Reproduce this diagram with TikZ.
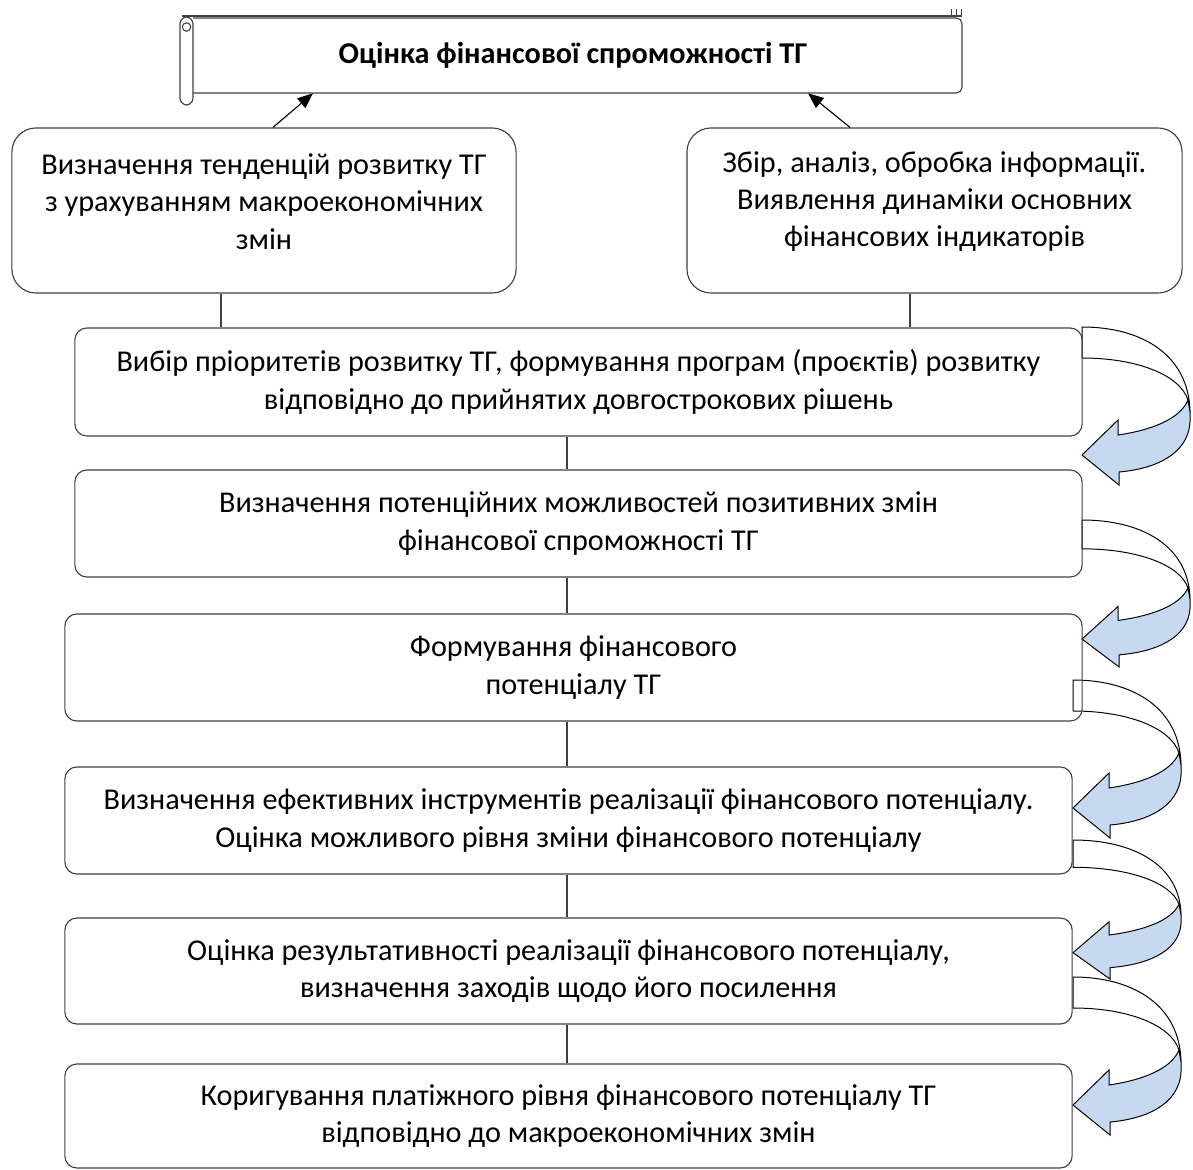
\documentclass[tikz,border=0pt]{standalone}
\usepackage{fontspec}
\setmainfont{Carlito}
\usepackage{tikz}
\usetikzlibrary{arrows.meta,positioning,calc}

\definecolor{arrowblue}{HTML}{C6D9F0}

% turning arrow at the right side: x, y, vertical stretch
\newcommand{\turnarrow}[3]{%
  \begin{scope}[shift={(#1,#2)}, yscale=#3]
    \filldraw[fill=white, draw=black, line width=0.7pt]
      (0,0) .. controls (60,0) and (107,28) .. (108,85) -- (106,73)
      .. controls (98,48) and (55,31) .. (0,31) -- cycle;
    \filldraw[fill=arrowblue, draw=black, line width=0.7pt]
      (106,73) -- (108,85) -- (108,95) .. controls (106,128) and (72,142) .. (37,145)
      -- (37,158) -- (0,128) -- (36,93) -- (36,108)
      .. controls (70,103) and (98,92) .. (106,73) -- cycle;
  \end{scope}}

\begin{document}
\begin{tikzpicture}[x=0.025cm, y=-0.025cm,
  every node/.style={font=\fontsize{21.5}{26.5}\selectfont, text=black},
  stage/.style={draw=black!75, line width=0.8pt, rounded corners=0.3cm, inner sep=0pt},
  topbox/.style={draw=black!75, line width=0.8pt, rounded corners=0.6cm, inner sep=0pt,
    minimum width=12.6cm, minimum height=4.125cm},
  link/.style={draw=black!75, line width=0.8pt},
  lift/.style={draw=black, line width=0.8pt, -{Triangle[length=11pt, width=9pt]}}]
  \useasboundingbox (0,0) rectangle (1193,1170);

  % The turning arrows
  \turnarrow{1082}{327}{1}
  \turnarrow{1082}{520}{0.93}
  \turnarrow{1073}{680}{1}
  \turnarrow{1073}{840}{0.88}
  \turnarrow{1073}{977}{1}

  % The scroll with the goal
  \draw[link] (182,16) -- (962,16);
  \draw[link, rounded corners=4pt] (193,18) -- (962,18) -- (962,93) -- (193,93);
  \draw[link, rounded corners=5pt] (180,17) rectangle (193,105);
  \draw[link] (186.5,27) circle[radius=3pt];
  \draw[link, line width=0.6pt] (951,9) -- (951,16) (956,9) -- (956,16) (961,9) -- (961,16);
  \node[minimum width=19.225cm, minimum height=1.9cm, inner sep=0pt] (goal) at (577.5,55) {};
  \node[font=\fontsize{21.5}{26}\selectfont\bfseries] (goaltext) at (573,55) {Оцінка фінансової спроможності ТГ};

  % The two starting blocks
  \node[topbox] (tl) at (264,210.5) {};
  \node[align=center] (tltext) at (264,201.5)
    {Визначення тенденцій розвитку ТГ\\з урахуванням макроекономічних\\змін};
  \node[topbox, minimum width=12.375cm] (tr) at (934.5,210.5) {};
  \node[align=center] (trtext) at (934.5,201.5)
    {Збір, аналіз, обробка інформації.\\Виявлення динаміки основних\\фінансових індикаторів};

  \draw[lift] ($(tl.north)+(9,0)$) -- ($(goal.south)+(-264.5,0)$);
  \draw[lift] ($(tr.north)+(-84.5,0)$) -- ($(goal.south)+(230.5,0)$);

  % The steps
  \node[stage, minimum width=25.175cm, minimum height=2.7cm, align=center] (b1) at (578.5,382)
    {Вибір пріоритетів розвитку ТГ, формування програм (проєктів) розвитку\\відповідно до прийнятих довгострокових рішень};
  \node[stage, minimum width=25.175cm, minimum height=2.675cm, align=center] (b2) at (578.5,523.5)
    {Визначення потенційних можливостей позитивних змін\\фінансової спроможності ТГ};
  \node[stage, minimum width=25.425cm, minimum height=2.675cm, align=center] (b3) at (573.5,667.5)
    {Формування фінансового\\потенціалу ТГ};
  \node[stage, minimum width=25.175cm, minimum height=2.675cm, align=center] (b4) at (568.5,820.5)
    {Визначення ефективних інструментів реалізації фінансового потенціалу.\\Оцінка можливого рівня зміни фінансового потенціалу};
  \node[stage, minimum width=25.175cm, minimum height=2.65cm, align=center] (b5) at (568.5,971)
    {Оцінка результативності реалізації фінансового потенціалу,\\визначення заходів щодо його посилення};
  \node[stage, minimum width=25.175cm, minimum height=2.6cm, align=center] (b6) at (568.5,1116)
    {Коригування платіжного рівня фінансового потенціалу ТГ\\відповідно до макроекономічних змін};

  % Links between the blocks
  \coordinate (spine) at (567,0);
  \coordinate (tlfoot) at ($(tl.south)+(-43,0)$);
  \coordinate (trfoot) at ($(tr.south)+(-24.5,0)$);
  \draw[link] (tlfoot) -- (tlfoot |- b1.north);
  \draw[link] (trfoot) -- (trfoot |- b1.north);
  \draw[link] (b1.south -| spine) -- (b2.north -| spine);
  \draw[link] (b2.south -| spine) -- (b3.north -| spine);
  \draw[link] (b3.south -| spine) -- (b4.north -| spine);
  \draw[link] (b4.south -| spine) -- (b5.north -| spine);
  \draw[link] (b5.south -| spine) -- (b6.north -| spine);
\end{tikzpicture}
\end{document}
